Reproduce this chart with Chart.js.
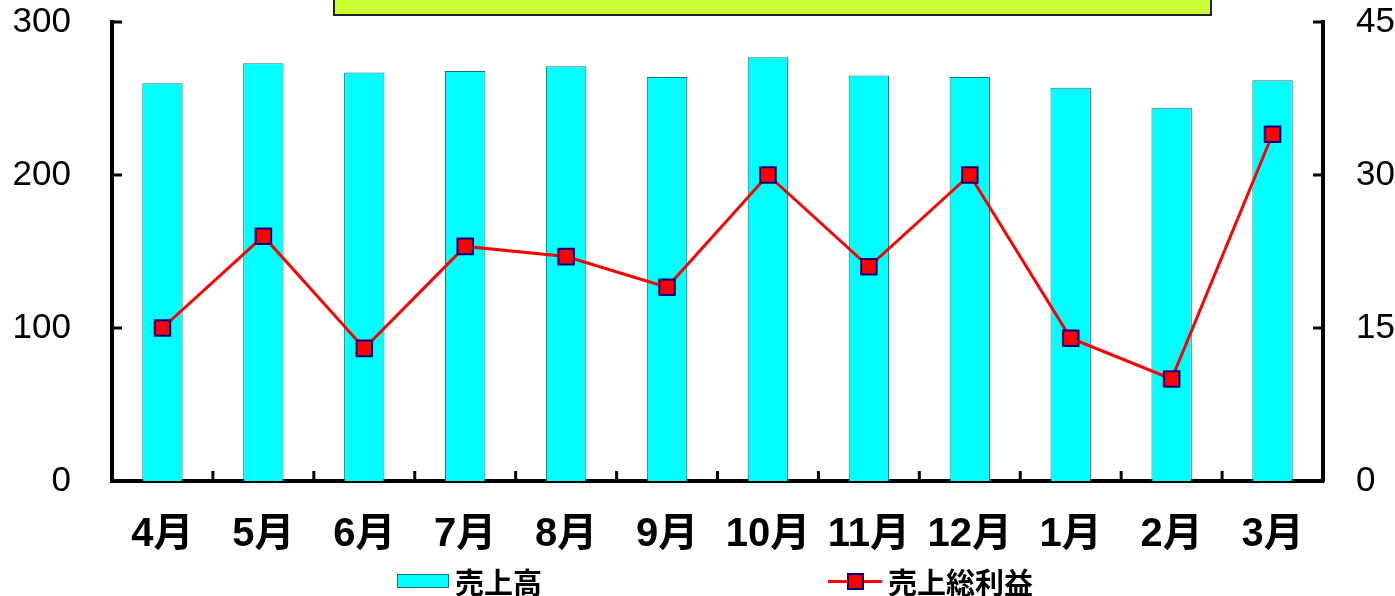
<!DOCTYPE html>
<html>
<head>
<meta charset="utf-8">
<script src="https://cdn.jsdelivr.net/npm/chart.js@4.4.1/dist/chart.umd.min.js"></script>
<style>
  html, body { margin: 0; padding: 0; background: #fff; }
  #wrap { position: relative; width: 1395px; height: 596px; overflow: hidden; }
  #titleBox {
    position: absolute; left: 333px; top: -6px; width: 875px; height: 18px;
    background: #CCFF33; border: 2px solid #222;
  }
  .legend {
    position: absolute; top: 566px; font-family: 'Noto Sans CJK JP', sans-serif;
    font-weight: 700; font-size: 29px; line-height: 30px; color: #000;
    display: flex; align-items: center;
  }
  .swatch { width: 50px; height: 12px; background: #00FFFF; border: 1px solid #207070; margin-right: 6px; }
  .lineSw { position: relative; width: 54px; height: 20px; margin-right: 6px; }
  .lineSw::before { content: ''; position: absolute; left: 0; right: 0; top: 9px; height: 3px; background: #FF0000; }
  .lineSw::after { content: ''; position: absolute; left: 19px; top: 2px; width: 13px; height: 13px; background: #FF0000; border: 2px solid #000080; }
</style>
</head>
<body>
<div id="wrap">
  <canvas id="chart" width="1395" height="596"></canvas>
  <div id="titleBox"></div>
  <div class="legend" style="left:397px"><span class="swatch"></span>売上高</div>
  <div class="legend" style="left:828px"><span class="lineSw"></span>売上総利益</div>
</div>
<script>
const months = ['4月', '5月', '6月', '7月', '8月', '9月', '10月', '11月', '12月', '1月', '2月', '3月'];
const sales = [260, 273, 267, 268, 271, 264, 277, 265, 264, 257, 244, 262];
const grossProfit = [15, 24, 13, 23, 22, 19, 30, 21, 30, 14, 10, 34];
const leftTicks = [0, 100, 200, 300];
const rightTicks = [0, 15, 30, 45];

const fontFamily = "'Liberation Sans', 'Noto Sans CJK JP', sans-serif";

// ticks drawn inside the plot area, like the original
const innerTicks = {
    id: 'innerTicks',
    afterDraw(chart) {
        const c = chart.ctx;
        const a = chart.chartArea;
        const x = chart.scales.x;
        const len = 10;
        c.save();
        c.strokeStyle = '#000';
        c.lineWidth = 3;
        c.beginPath();
        leftTicks.forEach(v => {
            const py = chart.scales.y.getPixelForValue(v);
            c.moveTo(a.left, py); c.lineTo(a.left + len, py);
        });
        rightTicks.forEach(v => {
            const py = chart.scales.y1.getPixelForValue(v);
            c.moveTo(a.right, py); c.lineTo(a.right - len, py);
        });
        for (let i = 1; i < months.length; i++) {
            const px = (x.getPixelForValue(i - 1) + x.getPixelForValue(i)) / 2;
            c.moveTo(px, a.bottom); c.lineTo(px, a.bottom - len);
        }
        c.stroke();
        c.restore();
    }
};

function fitY(width) {
    return function (s) {
        s.width = width;
        s.paddingTop = 0;
        s.paddingBottom = 0;
    };
}

new Chart(document.getElementById('chart'), {
    type: 'bar',
    data: {
        labels: months,
        datasets: [
            {
                type: 'line',
                label: '売上総利益',
                data: grossProfit,
                yAxisID: 'y1',
                borderColor: '#FF0000',
                borderWidth: 3,
                pointStyle: 'rect',
                pointRadius: 11,
                pointBackgroundColor: '#FF0000',
                pointBorderColor: '#000080',
                pointBorderWidth: 2,
                tension: 0,
                order: 0
            },
            {
                label: '売上高',
                data: sales,
                yAxisID: 'y',
                backgroundColor: '#00FFFF',
                borderColor: '#207070',
                borderWidth: 1,
                barPercentage: 0.4,
                categoryPercentage: 1,
                order: 1
            }
        ]
    },
    options: {
        responsive: false,
        animation: false,
        layout: { padding: { top: 22, bottom: 40 } },
        plugins: {
            legend: { display: false },
            tooltip: { enabled: false }
        },
        scales: {
            x: {
                offset: true,
                grid: { display: false },
                border: { color: '#000', width: 4 },
                ticks: {
                    padding: 22,
                    color: '#000',
                    font: { family: fontFamily, size: 40, weight: '700' },
                    maxRotation: 0,
                    autoSkip: false
                },
                afterFit(s) { s.height = 75; s.paddingLeft = 0; s.paddingRight = 0; }
            },
            y: {
                position: 'left',
                min: 0,
                max: 300,
                grid: { display: false },
                border: { color: '#000', width: 4 },
                afterBuildTicks(s) { s.ticks = leftTicks.map(v => ({ value: v })); },
                ticks: {
                    padding: 33,
                    color: '#000',
                    font: { family: fontFamily, size: 35 }
                },
                afterFit: fitY(112)
            },
            y1: {
                position: 'right',
                min: 0,
                max: 45,
                grid: { display: false },
                border: { color: '#000', width: 4 },
                afterBuildTicks(s) { s.ticks = rightTicks.map(v => ({ value: v })); },
                ticks: {
                    padding: 25,
                    color: '#000',
                    font: { family: fontFamily, size: 35 }
                },
                afterFit: fitY(72)
            }
        }
    },
    plugins: [innerTicks]
});
</script>
</body>
</html>
